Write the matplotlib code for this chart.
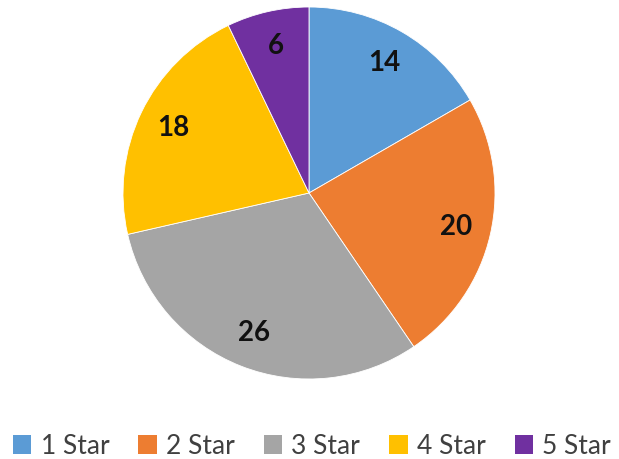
import matplotlib
matplotlib.use("Agg")
import matplotlib.pyplot as plt
from matplotlib.patches import Patch

categories = ["1 Star", "2 Star", "3 Star", "4 Star", "5 Star"]
values = [14, 20, 26, 18, 6]
colors = ["#5B9BD5", "#ED7D31", "#A5A5A5", "#FFC000", "#7030A0"]

plt.rcParams['font.family'] = ['Lato', 'DejaVu Sans']

fig = plt.figure(figsize=(6.19, 4.59), dpi=100)
fig.patch.set_facecolor("white")
ax = fig.add_axes([123/619, 80/459, 372/619, 372/459])
wedges, texts = ax.pie(values, colors=colors, startangle=90, counterclock=False,
                       radius=1.0, labels=[str(v) for v in values], labeldistance=0.81,
                       wedgeprops=dict(edgecolor="white", linewidth=0.6),
                       textprops=dict(fontsize=20, fontweight="bold", color="#111111"))
for t in texts:
    t.set_ha("center")
    t.set_va("center")
ax.set_xlim(-1, 1)
ax.set_ylim(-1, 1)
ax.set_aspect("equal")
ax.axis("off")

handles = [Patch(facecolor=c, edgecolor="none") for c in colors]
fig.legend(handles, categories, loc="center", bbox_to_anchor=(0.504, 1 - 446/459), ncol=5,
           frameon=False, fontsize=19, handlelength=0.7, handleheight=0.7,
           handletextpad=0.35, columnspacing=1.1, borderpad=0, labelcolor="#404040")

fig.savefig("out.png", dpi=100, facecolor="white")
